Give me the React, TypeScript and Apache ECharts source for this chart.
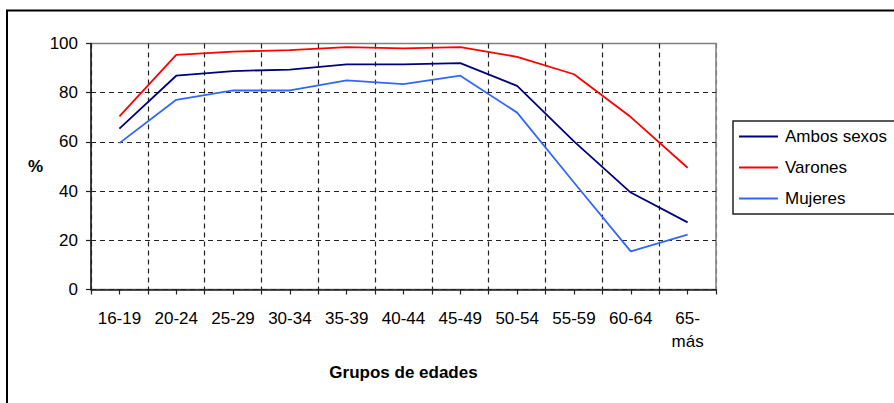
import React, { useEffect, useRef } from "react";
import * as echarts from "echarts";

const categories = ["16-19", "20-24", "25-29", "30-34", "35-39", "40-44", "45-49", "50-54", "55-59", "60-64", "65-más"];
const ambosSexos = [65.4, 86.9, 88.8, 89.4, 91.5, 91.5, 92.0, 82.8, 60.2, 39.4, 27.3];
const varones = [70.4, 95.4, 96.7, 97.3, 98.5, 98.0, 98.5, 94.6, 87.5, 70.1, 49.5];
const mujeres = [59.5, 77.1, 80.9, 80.9, 85.0, 83.5, 86.9, 71.9, 43.5, 15.5, 22.3];
const yTicks = [0, 20, 40, 60, 80, 100];

const FONT = "'Liberation Sans', Arial, sans-serif";

export default function App() {
  const ref = useRef<HTMLDivElement>(null);
  useEffect(() => {
    document.body.style.margin = "0";
    document.body.style.overflow = "hidden";
    const chart = echarts.init(ref.current!, null, { renderer: "svg" });
    const vSplitColors = categories.map(() => "#222").concat(["#808080"]);
    chart.setOption({
      animation: false,
      backgroundColor: "#fff",
      textStyle: { fontFamily: FONT },
      graphic: [
        {
          type: "rect",
          shape: { x: 7, y: 10.5, width: 1000, height: 600 },
          style: { fill: "none", stroke: "#000", lineWidth: 2 },
          z: 100,
        },
      ],
      grid: {
        left: 91,
        top: 43.5,
        width: 625,
        height: 246,
        show: true,
        borderColor: "#808080",
        borderWidth: 1.5,
        containLabel: false,
      },
      legend: {
        orient: "vertical",
        left: 733,
        top: 121,
        padding: [6, 40, 6, 6],
        borderColor: "#222",
        borderWidth: 1.5,
        icon: "rect",
        itemWidth: 39,
        itemHeight: 2,
        itemGap: 12,
        textStyle: { fontFamily: FONT, fontSize: 17, color: "#000", lineHeight: 19, padding: [0, 0, 0, 2] },
        data: ["Ambos sexos", "Varones", "Mujeres"],
      },
      xAxis: [
        {
          type: "category",
          data: categories,
          boundaryGap: true,
          position: "bottom",
          name: "Grupos de edades",
          nameLocation: "middle",
          nameGap: 74,
          nameTextStyle: { fontFamily: FONT, fontSize: 17, fontWeight: "bold", color: "#000", letterSpacing: 1.6 } as any,
          axisLine: { show: true, lineStyle: { color: "#222", width: 1.5 } },
          axisTick: { show: true, interval: 0, length: 5, lineStyle: { color: "#222", width: 1.2 } },
          axisLabel: {
            interval: 0,
            margin: 17,
            fontFamily: FONT,
            fontSize: 17,
            color: "#000",
            lineHeight: 23,
            formatter: (v: string) => v.replace("-más", "-\nmás"),
          },
          splitLine: { show: true, interval: 0, lineStyle: { color: vSplitColors, type: [5, 4], width: 1.2 } },
        },
        {
          type: "category",
          data: categories,
          boundaryGap: true,
          position: "bottom",
          axisLine: { show: false },
          axisTick: { show: true, alignWithLabel: true, interval: 0, length: 5, lineStyle: { color: "#222", width: 1.2 } },
          axisLabel: { show: false },
          splitLine: { show: false },
        },
      ],
      yAxis: {
        type: "value",
        min: 0,
        max: 100,
        interval: 20,
        name: "%",
        nameLocation: "middle",
        nameRotate: 0,
        nameGap: 48,
        nameTextStyle: { fontFamily: FONT, fontSize: 17, fontWeight: "bold", color: "#000" },
        axisLine: { show: true, lineStyle: { color: "#222", width: 1.5 } },
        axisTick: { show: true, length: 5, lineStyle: { color: "#222", width: 1.2 } },
        axisLabel: {
          margin: 13,
          fontFamily: FONT,
          fontSize: 17,
          color: "#000",
          formatter: (v: number) => (yTicks.includes(v) ? String(v) : ""),
        },
        splitLine: {
          show: true,
          lineStyle: { color: ["#222", "#222", "#222", "#222", "#222", "#808080"], type: [5, 4], width: 1.2 },
        },
      },
      series: [
        {
          name: "Ambos sexos",
          type: "line",
          data: ambosSexos,
          symbol: "none",
          lineStyle: { color: "#000080", width: 1.8 },
          itemStyle: { color: "#000080" },
        },
        {
          name: "Varones",
          type: "line",
          data: varones,
          symbol: "none",
          lineStyle: { color: "#ff0000", width: 1.8 },
          itemStyle: { color: "#ff0000" },
        },
        {
          name: "Mujeres",
          type: "line",
          data: mujeres,
          symbol: "none",
          lineStyle: { color: "#3366ff", width: 1.8 },
          itemStyle: { color: "#3366ff" },
        },
      ],
    });
    return () => chart.dispose();
  }, []);
  return <div ref={ref} style={{ position: "fixed", left: 0, top: 0, width: 894, height: 403 }} />;
}
